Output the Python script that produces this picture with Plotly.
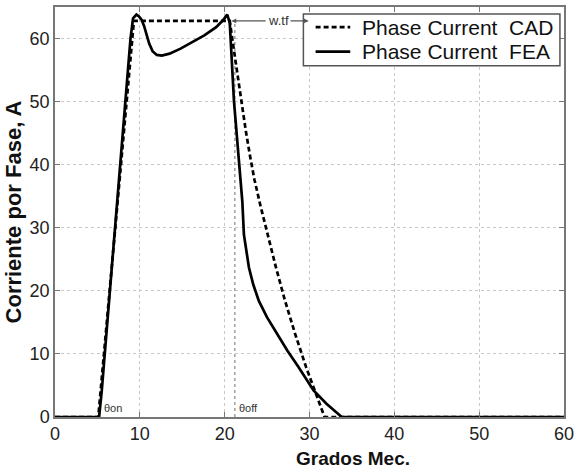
import plotly.graph_objects as go

# ---- data ----
fea_x = [0, 5.2, 5.5, 8.9, 9.2, 9.6, 9.9, 10.2, 10.5, 10.8, 11.1, 11.5, 12.0, 12.6, 13.5,
         14.8, 16.2, 17.6, 19.0, 19.8, 20.3, 20.6, 21.1, 21.7, 22.08, 22.27, 22.86, 23.37,
         24.03, 25.0, 26.18, 27.4, 28.72, 30.48, 32.0, 33.8, 60]
fea_y = [0, 0, 4, 60, 63.2, 63.8, 63.5, 63.0, 62.0, 60.6, 59.2, 58.0, 57.4, 57.3, 57.6,
         58.4, 59.4, 60.5, 61.8, 62.9, 63.8, 62.5, 50, 39.5, 34.2, 28.9, 23.7, 21.0,
         18.4, 15.8, 13.2, 10.5, 7.9, 4.2, 2.1, 0, 0]

cad_x = [0, 5.1, 9.3, 20.6, 21.0, 21.5, 22.0, 22.5, 23.0, 23.5, 24.2, 25.07, 26.03,
         27.1, 28.3, 29.6, 31.0, 31.77, 60]
cad_y = [0, 0, 62.8, 62.8, 59.0, 54.2, 49.6, 45.3, 41.3, 37.7, 33.6, 28.9, 23.8,
         18.5, 13.2, 7.9, 2.7, 0, 0]

series_names = ["Phase Current\u00a0\u00a0CAD", "Phase Current\u00a0\u00a0FEA"]

theta_on = 5.4
theta_off = 21.2
theta_off_top = 62.8
wtf_start = 20.8
wtf_end = 29.9
wtf_level = 62.8

x_ticks = [0, 10, 20, 30, 40, 50, 60]
y_ticks = [0, 10, 20, 30, 40, 50, 60]

FONT = "Liberation Sans, Arial, sans-serif"

fig = go.Figure()

# theta_off marker line
fig.add_trace(go.Scatter(x=[theta_off, theta_off], y=[0, theta_off_top], mode="lines",
                         line=dict(color="#888888", width=1.2, dash="3px,3px"),
                         showlegend=False, hoverinfo="skip"))

cad_line = dict(color="black", width=2.7, dash="5px,3px")
fea_line = dict(color="black", width=2.7)
fig.add_trace(go.Scatter(x=cad_x, y=cad_y, mode="lines", name=series_names[0],
                         line=cad_line, showlegend=False))
fig.add_trace(go.Scatter(x=fea_x, y=fea_y, mode="lines", name=series_names[1],
                         line=fea_line, showlegend=False))

axis_common = dict(showline=True, linecolor="#777777", linewidth=1.5, mirror="ticks",
                   ticks="inside", ticklen=5, tickcolor="#777777",
                   showgrid=True, gridcolor="#c8c8c8", griddash="dot", gridwidth=1,
                   zeroline=False,
                   tickfont=dict(family=FONT, size=18, color="#222222"))

fig.update_xaxes(range=[0, 60], tickvals=x_ticks, **axis_common)
fig.update_yaxes(range=[0, 65], tickvals=y_ticks, **axis_common,
                 title=dict(text="<b>Corriente por Fase, A</b>",
                            font=dict(family=FONT, size=22, color="#111111"), standoff=2))

annotations = [
    dict(x=0.586, y=-0.1, xref="paper", yref="paper", text="<b>Grados Mec.</b>",
         showarrow=False, font=dict(family=FONT, size=19, color="#111111"),
         xanchor="center", yanchor="middle"),
    dict(x=theta_on + 0.1, y=0.2, xref="x", yref="y", text="θon", showarrow=False,
         font=dict(family=FONT, size=11, color="#333333"), xanchor="left", yanchor="bottom"),
    dict(x=theta_off + 0.2, y=0.2, xref="x", yref="y", text="θoff", showarrow=False,
         font=dict(family=FONT, size=11, color="#333333"), xanchor="left", yanchor="bottom"),
    dict(x=wtf_start, y=wtf_level, ax=25.0, ay=wtf_level, xref="x", yref="y",
         axref="x", ayref="y", text="", showarrow=True, arrowhead=2, arrowsize=0.8,
         arrowwidth=1.2, arrowcolor="#555555"),
    dict(x=wtf_end, y=wtf_level, ax=27.5, ay=wtf_level, xref="x", yref="y",
         axref="x", ayref="y", text="", showarrow=True, arrowhead=2, arrowsize=0.8,
         arrowwidth=1.2, arrowcolor="#555555"),
    dict(x=26.4, y=wtf_level, xref="x", yref="y", text="w.tf", showarrow=False,
         bgcolor="white", font=dict(family=FONT, size=13, color="#333333"),
         xanchor="center", yanchor="middle"),
]

# custom legend box (paper coordinates)
leg_x0, leg_x1, leg_y0, leg_y1 = 0.488, 0.992, 0.857, 0.983
row_y = [0.951, 0.891]
sample_x0, sample_x1, text_x = 0.512, 0.580, 0.600
shapes = [dict(type="rect", xref="paper", yref="paper", x0=leg_x0, x1=leg_x1,
               y0=leg_y0, y1=leg_y1, line=dict(color="#555555", width=1.5),
               fillcolor="white", layer="above")]
for name, ln, ry in zip(series_names, [cad_line, fea_line], row_y):
    shapes.append(dict(type="line", xref="paper", yref="paper", x0=sample_x0, x1=sample_x1,
                       y0=ry, y1=ry, line=ln, layer="above"))
    annotations.append(dict(x=text_x, y=ry, xref="paper", yref="paper", text=name,
                            showarrow=False, xanchor="left", yanchor="middle",
                            font=dict(family=FONT, size=21, color="#111111")))

fig.update_layout(
    width=579, height=473,
    margin=dict(l=55, r=12, t=5, b=56),
    paper_bgcolor="white", plot_bgcolor="white",
    font=dict(family=FONT, color="#111111"),
    showlegend=False,
    shapes=shapes,
    annotations=annotations,
)

fig.write_html("out.html", config={"displayModeBar": False},
               post_script="document.body.style.margin='0';")
